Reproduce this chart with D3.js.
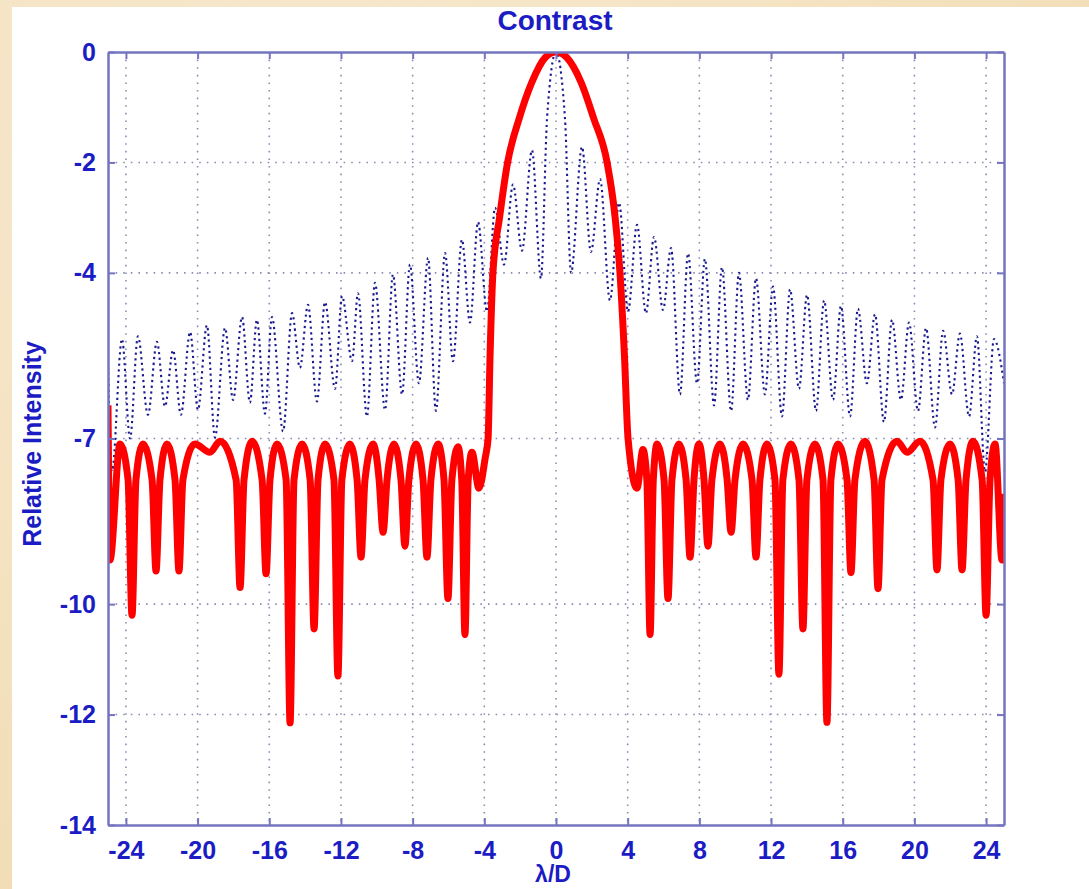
<!DOCTYPE html>
<html>
<head>
<meta charset="utf-8">
<script src="https://cdn.jsdelivr.net/npm/d3@7"></script>
<style>
  html, body { margin: 0; padding: 0; }
  body { width: 1089px; height: 889px; overflow: hidden; background: #f4e3c1; }
</style>
</head>
<body>
<div id="chart"></div>
<script>
// tick values
const xTicks = [-24, -20, -16, -12, -8, -4, 0, 4, 8, 12, 16, 20, 24];
const yTicks = [0, -2, -4, -7, -10, -12, -14];

// red solid curve [λ/D, relative intensity]
const redCurve = [
  [-25.0, -6.4], [-24.89, -9.2], [-24.33, -7.1],
  [-23.88, -7.75], [-23.66, -10.2], [-23.44, -7.75], [-23.05, -7.1],
  [-22.54, -7.75], [-22.32, -9.4], [-22.1, -7.75], [-21.71, -7.1],
  [-21.26, -7.75], [-21.04, -9.4], [-20.82, -7.75],
  [-20.15, -7.1], [-19.31, -7.25], [-18.75, -7.05],
  [-17.85, -7.75], [-17.63, -9.7], [-17.41, -7.75], [-16.96, -7.05],
  [-16.4, -7.75], [-16.18, -9.45], [-15.96, -7.75], [-15.57, -7.1],
  [-15.06, -7.75], [-14.84, -12.15], [-14.62, -7.75], [-14.17, -7.1],
  [-13.72, -7.75], [-13.5, -10.45], [-13.28, -7.75], [-12.89, -7.1],
  [-12.39, -7.75], [-12.17, -11.3], [-11.95, -7.75], [-11.5, -7.1],
  [-11.1, -7.75], [-10.88, -9.15], [-10.66, -7.75], [-10.21, -7.1],
  [-9.87, -7.75], [-9.65, -8.7], [-9.43, -7.75], [-9.04, -7.1],
  [-8.65, -7.75], [-8.43, -8.95], [-8.21, -7.75], [-7.81, -7.1],
  [-7.42, -7.75], [-7.2, -9.15], [-6.98, -7.75], [-6.58, -7.1],
  [-6.25, -7.75], [-6.03, -9.9], [-5.81, -7.75], [-5.47, -7.15],
  [-5.26, -7.75], [-5.08, -10.55], [-4.9, -7.75], [-4.69, -7.25],
  [-4.3, -7.9], [-3.95, -7.35],
  [-3.79, -7.0], [-3.68, -5.5], [-3.52, -4.0], [-3.15, -3.0], [-2.7, -2.0],
  [-2.05, -1.2], [-1.35, -0.55], [-0.6, -0.1], [0, 0], [0.6, -0.1],
  [1.4, -0.55], [2.1, -1.2], [2.85, -2.0], [3.3, -3.0], [3.57, -4.0],
  [3.82, -5.5], [4.02, -7.0],
  [4.52, -7.9], [4.85, -7.2],
  [5.07, -7.75], [5.25, -10.55], [5.43, -7.75], [5.64, -7.1],
  [6.03, -7.75], [6.25, -9.9], [6.47, -7.75], [6.86, -7.1],
  [7.26, -7.75], [7.48, -9.15], [7.7, -7.75], [7.98, -7.1],
  [8.26, -7.75], [8.48, -8.95], [8.7, -7.75], [9.15, -7.1],
  [9.55, -7.75], [9.77, -8.7], [9.99, -7.75], [10.44, -7.1],
  [10.94, -7.75], [11.16, -9.15], [11.38, -7.75], [11.77, -7.1],
  [12.22, -7.75], [12.44, -11.27], [12.66, -7.75], [13.11, -7.1],
  [13.56, -7.75], [13.78, -10.45], [14.0, -7.75], [14.45, -7.1],
  [14.9, -7.75], [15.12, -12.14], [15.34, -7.75], [15.74, -7.1],
  [16.24, -7.75], [16.46, -9.43], [16.68, -7.75], [17.24, -7.05],
  [17.75, -7.75], [17.97, -9.72], [18.19, -7.75],
  [19.03, -7.05], [19.59, -7.25], [20.31, -7.05],
  [21.04, -7.75], [21.26, -9.38], [21.48, -7.75], [21.99, -7.1],
  [22.44, -7.75], [22.66, -9.38], [22.88, -7.75], [23.27, -7.05],
  [23.78, -7.75], [24.0, -10.2], [24.22, -7.75], [24.5, -7.1],
  [24.89, -9.2], [25.0, -8.0]
];

// blue dotted curve [λ/D, relative intensity]
const blueCurve = [
  [-25.0, -5.6], [-24.78, -7.6], [-24.22, -5.2], [-23.77, -7.0], [-23.33, -5.15],
  [-22.77, -6.57], [-22.27, -5.25], [-21.82, -6.42], [-21.37, -5.4], [-20.93, -6.57],
  [-20.42, -5.07], [-19.98, -6.48], [-19.48, -4.95], [-19.03, -6.98], [-18.47, -5.0],
  [-18.02, -6.3], [-17.52, -4.8], [-17.08, -6.35], [-16.69, -4.85], [-16.24, -6.55],
  [-15.85, -4.8], [-15.23, -6.87], [-14.73, -4.73], [-14.29, -5.72], [-13.84, -4.58],
  [-13.34, -6.33], [-12.89, -4.53], [-12.33, -6.1], [-11.94, -4.42], [-11.38, -5.6],
  [-11.05, -4.37], [-10.55, -6.6], [-10.1, -4.18], [-9.54, -6.48], [-9.1, -4.03],
  [-8.59, -6.2], [-8.15, -3.85], [-7.65, -6.0], [-7.14, -3.73], [-6.7, -6.5],
  [-6.19, -3.64], [-5.75, -5.6], [-5.25, -3.4], [-4.8, -4.9], [-4.35, -3.08],
  [-3.85, -4.7], [-3.4, -2.82], [-2.9, -3.85], [-2.4, -2.4], [-1.9, -3.6],
  [-1.34, -1.78], [-0.84, -4.1], [-0.5, -1.2], [0, 0], [0.5, -1.2],
  [0.84, -4.0], [1.45, -1.72], [1.95, -3.62], [2.46, -2.3], [3.01, -4.5],
  [3.52, -2.73], [4.02, -4.7], [4.52, -3.13], [5.02, -4.73], [5.47, -3.35],
  [5.97, -4.67], [6.42, -3.55], [6.92, -6.2], [7.37, -3.65], [7.87, -6.0],
  [8.31, -3.75], [8.82, -6.4], [9.26, -3.9], [9.77, -6.5], [10.21, -4.0],
  [10.71, -6.3], [11.16, -4.1], [11.66, -6.2], [12.11, -4.25], [12.61, -6.6],
  [13.06, -4.3], [13.56, -6.1], [14.01, -4.4], [14.51, -6.5], [14.96, -4.5],
  [15.46, -6.3], [15.9, -4.6], [16.41, -6.6], [16.85, -4.65], [17.35, -6.0],
  [17.8, -4.75], [18.3, -6.7], [18.75, -4.85], [19.25, -6.3], [19.7, -4.9],
  [20.2, -6.5], [20.65, -5.0], [21.15, -6.8], [21.6, -5.05], [22.1, -6.2],
  [22.54, -5.1], [23.05, -6.6], [23.49, -5.15], [23.94, -7.6], [24.44, -5.2],
  [25.0, -6.0]
];

const width = 1089, height = 889;
const plot = { left: 108, right: 1004, top: 52, bottom: 825 };
const blue = "#1c1cc4";
const font = "'Liberation Sans', Arial, sans-serif";

const svg = d3.select("#chart").append("svg")
  .attr("width", width)
  .attr("height", height);

// parchment background + white panel
const defs = svg.append("defs");
const grad = defs.append("radialGradient").attr("id", "parch").attr("cx", "30%").attr("cy", "20%").attr("r", "90%");
grad.append("stop").attr("offset", "0%").attr("stop-color", "#f8ead0");
grad.append("stop").attr("offset", "100%").attr("stop-color", "#f1dcb4");
svg.append("rect").attr("width", width).attr("height", height).attr("fill", "url(#parch)");
svg.append("rect").attr("x", 12).attr("y", 7)
  .attr("width", width - 12).attr("height", height - 7)
  .attr("fill", "#ffffff");

defs.append("clipPath").attr("id", "plotclip")
  .append("rect")
  .attr("x", plot.left).attr("y", plot.top)
  .attr("width", plot.right - plot.left).attr("height", plot.bottom - plot.top);

const xScale = d3.scaleLinear().domain([-25, 25]).range([plot.left, plot.right]);
const yScale = d3.scaleLinear().domain([-14, 0]).range([plot.bottom, plot.top]);

// dotted grid
const grid = svg.append("g")
  .attr("stroke", "#8c8cb4")
  .attr("stroke-width", 1.6)
  .attr("stroke-dasharray", "1.6,6");
grid.selectAll(".gx").data(xTicks).join("line")
  .attr("x1", d => xScale(d)).attr("x2", d => xScale(d))
  .attr("y1", plot.top).attr("y2", plot.bottom);
grid.selectAll(".gy").data(yTicks.slice(1, -1)).join("line")
  .attr("y1", d => yScale(d)).attr("y2", d => yScale(d))
  .attr("x1", plot.left).attr("x2", plot.right);

const curves = svg.append("g").attr("clip-path", "url(#plotclip)");

const line = d3.line()
  .x(d => xScale(d[0]))
  .y(d => yScale(d[1]))
  .curve(d3.curveMonotoneX);

curves.append("path")
  .datum(blueCurve)
  .attr("fill", "none")
  .attr("stroke", "#1a1a8e")
  .attr("stroke-width", 2.1)
  .attr("stroke-dasharray", "2.2,3.5")
  .attr("d", line);

curves.append("path")
  .datum(redCurve)
  .attr("fill", "none")
  .attr("stroke", "#ff0000")
  .attr("stroke-width", 7)
  .attr("stroke-linejoin", "round")
  .attr("d", line);

// axes: labels bottom/left, inward ticks all around (plain hyphen minus like the original)
const axisColor = "#7474c0";
const fmt = d => String(d);
const xAxis = d3.axisBottom(xScale).tickValues(xTicks).tickFormat(fmt).tickSizeInner(-7).tickSizeOuter(0).tickPadding(16);
const yAxis = d3.axisLeft(yScale).tickValues(yTicks).tickFormat(fmt).tickSizeInner(-7).tickSizeOuter(0).tickPadding(12);

const gX = svg.append("g").attr("transform", `translate(0,${plot.bottom})`).call(xAxis);
const gY = svg.append("g").attr("transform", `translate(${plot.left},0)`).call(yAxis);
const gXt = svg.append("g").attr("transform", `translate(0,${plot.top})`)
  .call(d3.axisTop(xScale).tickValues(xTicks).tickSizeInner(-7).tickSizeOuter(0).tickFormat(""));
const gYr = svg.append("g").attr("transform", `translate(${plot.right},0)`)
  .call(d3.axisRight(yScale).tickValues(yTicks).tickSizeInner(-7).tickSizeOuter(0).tickFormat(""));

[gX, gY, gXt, gYr].forEach(g => {
  g.select(".domain").attr("stroke", axisColor).attr("stroke-width", 2.5);
  g.selectAll(".tick line").attr("stroke", axisColor).attr("stroke-width", 2);
  g.selectAll(".tick text")
    .attr("fill", blue)
    .style("font-family", font)
    .style("font-weight", "bold")
    .style("font-size", "25px");
});
gX.selectAll(".tick text").attr("dy", "0.7em");

// title and axis labels
svg.append("text")
  .attr("x", 555).attr("y", 30)
  .attr("text-anchor", "middle")
  .attr("fill", blue)
  .style("font-family", font).style("font-weight", "bold").style("font-size", "28px")
  .text("Contrast");

svg.append("text")
  .attr("transform", "translate(41,444) rotate(-90)")
  .attr("text-anchor", "middle")
  .attr("fill", blue)
  .style("font-family", font).style("font-weight", "bold").style("font-size", "25px")
  .text("Relative Intensity");

svg.append("text")
  .attr("x", 553).attr("y", 882)
  .attr("text-anchor", "middle")
  .attr("fill", blue)
  .style("font-family", font).style("font-weight", "bold").style("font-size", "23px")
  .text("λ/D");
</script>
</body>
</html>
